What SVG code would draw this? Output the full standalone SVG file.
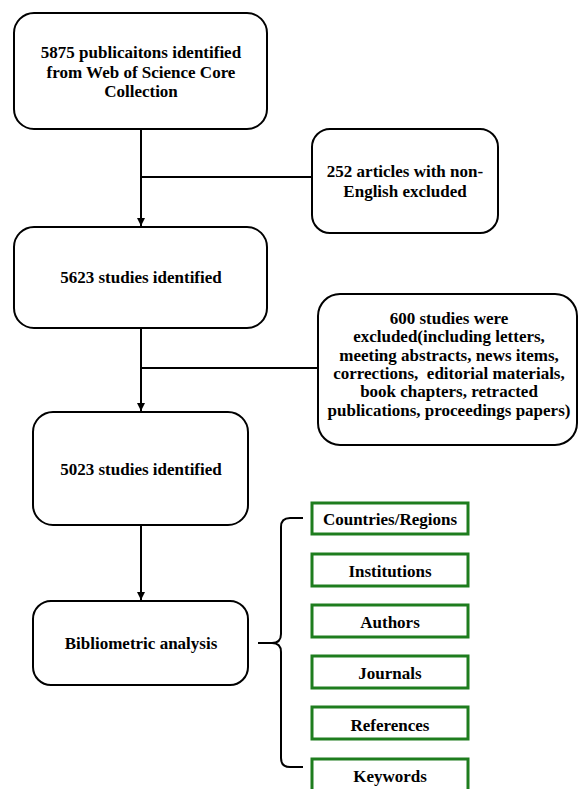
<svg xmlns="http://www.w3.org/2000/svg" width="578" height="789" viewBox="0 0 578 789">
<defs>
<style>
.box{fill:#fff;stroke:#000;stroke-width:2}
.gbox{fill:#fff;stroke:#1e7d1e;stroke-width:3}
.t{font-family:"Liberation Serif","Times New Roman",serif;font-weight:bold;font-size:17px;fill:#000;text-anchor:middle}
.g{font-family:"Liberation Serif","Times New Roman",serif;font-weight:bold;font-size:17px;fill:#000;text-anchor:middle}
.ln{fill:none;stroke:#000;stroke-width:2}
</style>
<marker id="arr" markerWidth="10" markerHeight="10" refX="8" refY="5" orient="auto" markerUnits="userSpaceOnUse">
<path d="M0,1 L8,5 L0,9 Z" fill="#000"/>
</marker>
</defs>
<rect width="578" height="789" fill="#fff"/>
<g id="connectors">
<line class="ln" x1="141" y1="129" x2="141" y2="226" marker-end="url(#arr)"/>
<line class="ln" x1="141" y1="177" x2="312" y2="177"/>
<line class="ln" x1="141" y1="328" x2="141" y2="411" marker-end="url(#arr)"/>
<line class="ln" x1="141" y1="368" x2="318" y2="368"/>
<line class="ln" x1="141" y1="525" x2="141" y2="600" marker-end="url(#arr)"/>
<path class="ln" d="M303,518 L290,518 Q281,518 281,527 L281,634 Q281,643 272,643 L258,643 M272,643 Q281,643 281,652 L281,758 Q281,767 290,767 L303,767"/>
</g>
<g id="n1">
<rect class="box" x="14" y="13" width="253" height="116" rx="20"/>
<text class="t" x="141" y="58">5875 publicaitons identified</text>
<text class="t" x="141" y="78">from Web of Science Core</text>
<text class="t" x="141" y="97">Collection</text>
</g>
<g id="n2">
<rect class="box" x="312" y="129" width="186" height="104" rx="18"/>
<text class="t" x="405" y="177">252 articles with non-</text>
<text class="t" x="405" y="197">English excluded</text>
</g>
<g id="n3">
<rect class="box" x="14" y="227" width="253" height="101" rx="20"/>
<text class="t" x="141" y="283">5623 studies identified</text>
</g>
<g id="n4">
<rect class="box" x="318" y="294" width="259" height="151" rx="22"/>
<text class="t" x="449" y="324">600 studies were</text>
<text class="t" x="449" y="342">excluded(including letters,</text>
<text class="t" x="449" y="361">meeting abstracts, news items,</text>
<text class="t" x="449" y="379" xml:space="preserve">corrections,  editorial materials,</text>
<text class="t" x="449" y="397">book chapters, retracted</text>
<text class="t" x="449" y="416">publications, proceedings papers)</text>
</g>
<g id="n5">
<rect class="box" x="33" y="412" width="215" height="113" rx="20"/>
<text class="t" x="141" y="475">5023 studies identified</text>
</g>
<g id="n6">
<rect class="box" x="33" y="601" width="215" height="84" rx="18"/>
<text class="t" x="141" y="649">Bibliometric analysis</text>
</g>
<g id="g1"><rect class="gbox" x="312" y="503" width="156" height="31"/><text class="g" x="390" y="525">Countries/Regions</text></g>
<g id="g2"><rect class="gbox" x="312" y="554" width="156" height="32"/><text class="g" x="390" y="577">Institutions</text></g>
<g id="g3"><rect class="gbox" x="312" y="605" width="156" height="32"/><text class="g" x="390" y="628">Authors</text></g>
<g id="g4"><rect class="gbox" x="312" y="656" width="156" height="32"/><text class="g" x="390" y="679">Journals</text></g>
<g id="g5"><rect class="gbox" x="312" y="707" width="156" height="32"/><text class="g" x="390" y="731">References</text></g>
<g id="g6"><rect class="gbox" x="312" y="759" width="156" height="34"/><text class="g" x="390" y="782">Keywords</text></g>
</svg>
